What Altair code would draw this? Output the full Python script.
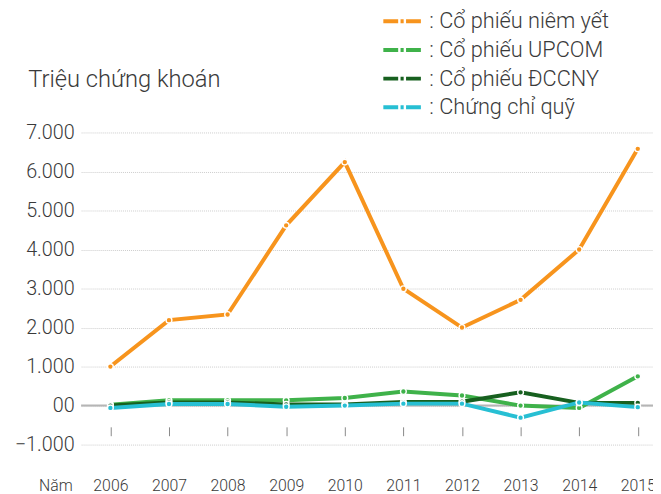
import altair as alt
import pandas as pd

years = [2006, 2007, 2008, 2009, 2010, 2011, 2012, 2013, 2014, 2015]
series_names = [
    "Cổ phiếu niêm yết",
    "Cổ phiếu UPCOM",
    "Cổ phiếu ĐCCNY",
    "Chứng chỉ quỹ",
]
niem_yet = [1000, 2190, 2335, 4620, 6240, 2995, 2000, 2710, 4000, 6580]
upcom = [25, 135, 135, 135, 195, 360, 260, 0, -60, 750]
dccny = [0, 80, 80, 30, 30, 90, 100, 340, 70, 70]
ccq = [-60, 40, 40, -30, 0, 50, 50, -310, 80, -40]
colors = ["#F7941D", "#3FB24A", "#17601F", "#27BFD3"]
y_ticks = [-1000, 0, 1000, 2000, 3000, 4000, 5000, 6000, 7000]
zero = [0]

rows = []
for name, vals in zip(series_names, [niem_yet, upcom, dccny, ccq]):
    for yr, v in zip(years, vals):
        rows.append({"year": yr, "value": v, "series": name})
df = pd.DataFrame(rows)

FONT = "Roboto"
TXT = "#3a3a3a"
# dash - dot - dash legend glyph (unit coords, scaled by the legend symbol size)
LEGEND_GLYPH = "M-1.81,0H-0.38M-0.15,0H0.15M0.38,0H1.81"

x_scale = alt.Scale(domain=[2005.5, 2015.26], nice=False, zero=False)
y_scale = alt.Scale(domain=[-1000, 7000], nice=False)

x_axis = alt.Axis(
    values=years, format="d",
    title="Năm", titleX=-43, titleY=51,
)
y_axis = alt.Axis(
    values=y_ticks,
    labelExpr="datum.value == 0 ? '00' : replace(format(datum.value, ','), ',', '.')",
    title="Triệu chứng khoán", titleX=-54, titleY=-47,
)

zero_rule = alt.Chart(pd.DataFrame({"value": zero})).mark_rule(
    color="#b5b5b5", strokeWidth=2
).encode(y=alt.Y("value:Q", scale=y_scale, axis=y_axis))

base = alt.Chart(df)
lines = base.mark_line(strokeWidth=4).encode(
    x=alt.X("year:Q", scale=x_scale, axis=x_axis),
    y=alt.Y("value:Q", scale=y_scale, axis=y_axis),
    color=alt.Color(
        "series:N",
        scale=alt.Scale(domain=series_names, range=colors),
        sort=series_names,
        legend=alt.Legend(
            title=None, orient="none", legendX=304, legendY=-125,
            symbolType=LEGEND_GLYPH, symbolSize=441, symbolStrokeWidth=4,
            symbolOffset=8.5, rowPadding=5, labelOffset=15, labelLimit=400,
            labelFontSize=22, labelColor=TXT, labelFont=FONT,
            labelFontWeight=300, padding=0,
            labelExpr="': ' + datum.label",
        ),
    ),
)
points = base.mark_point(filled=True, size=34, stroke="white", strokeWidth=1.4, opacity=1).encode(
    x=alt.X("year:Q", scale=x_scale, axis=x_axis),
    y=alt.Y("value:Q", scale=y_scale, axis=y_axis),
    fill=alt.Fill("series:N", scale=alt.Scale(domain=series_names, range=colors), legend=None),
)

chart = (
    alt.layer(zero_rule, lines, points)
    .properties(
        width=579, height=316,
        autosize=alt.AutoSizeParams(type="none"),
        padding={"left": 74, "top": 123, "right": 0, "bottom": 47},
    )
    .configure_view(stroke=None)
    .configure_axisY(
        grid=True, gridColor="#cccccc", gridDash=[1, 1], gridWidth=1,
        domain=False, ticks=False, labelPadding=7, labelOverlap=False,
        labelFontSize=20, labelColor=TXT, labelFont=FONT, labelFontWeight=300,
        titleAngle=0, titleAlign="left", titleBaseline="alphabetic",
        titleFontSize=24, titleFontWeight=300, titleColor=TXT, titleFont=FONT,
    )
    .configure_axisX(
        grid=False, domain=False, ticks=True, tickSize=9, tickColor="#888",
        tickWidth=1, offset=-18, labelPadding=42, labelFontSize=16,
        labelColor=TXT, labelFont=FONT, labelFontWeight=300,
        titleAlign="left", titleBaseline="top", titleFontSize=16,
        titleFontWeight=300, titleColor=TXT, titleFont=FONT,
    )
)

chart.save("out.html", embed_options={"renderer": "svg", "actions": False})
